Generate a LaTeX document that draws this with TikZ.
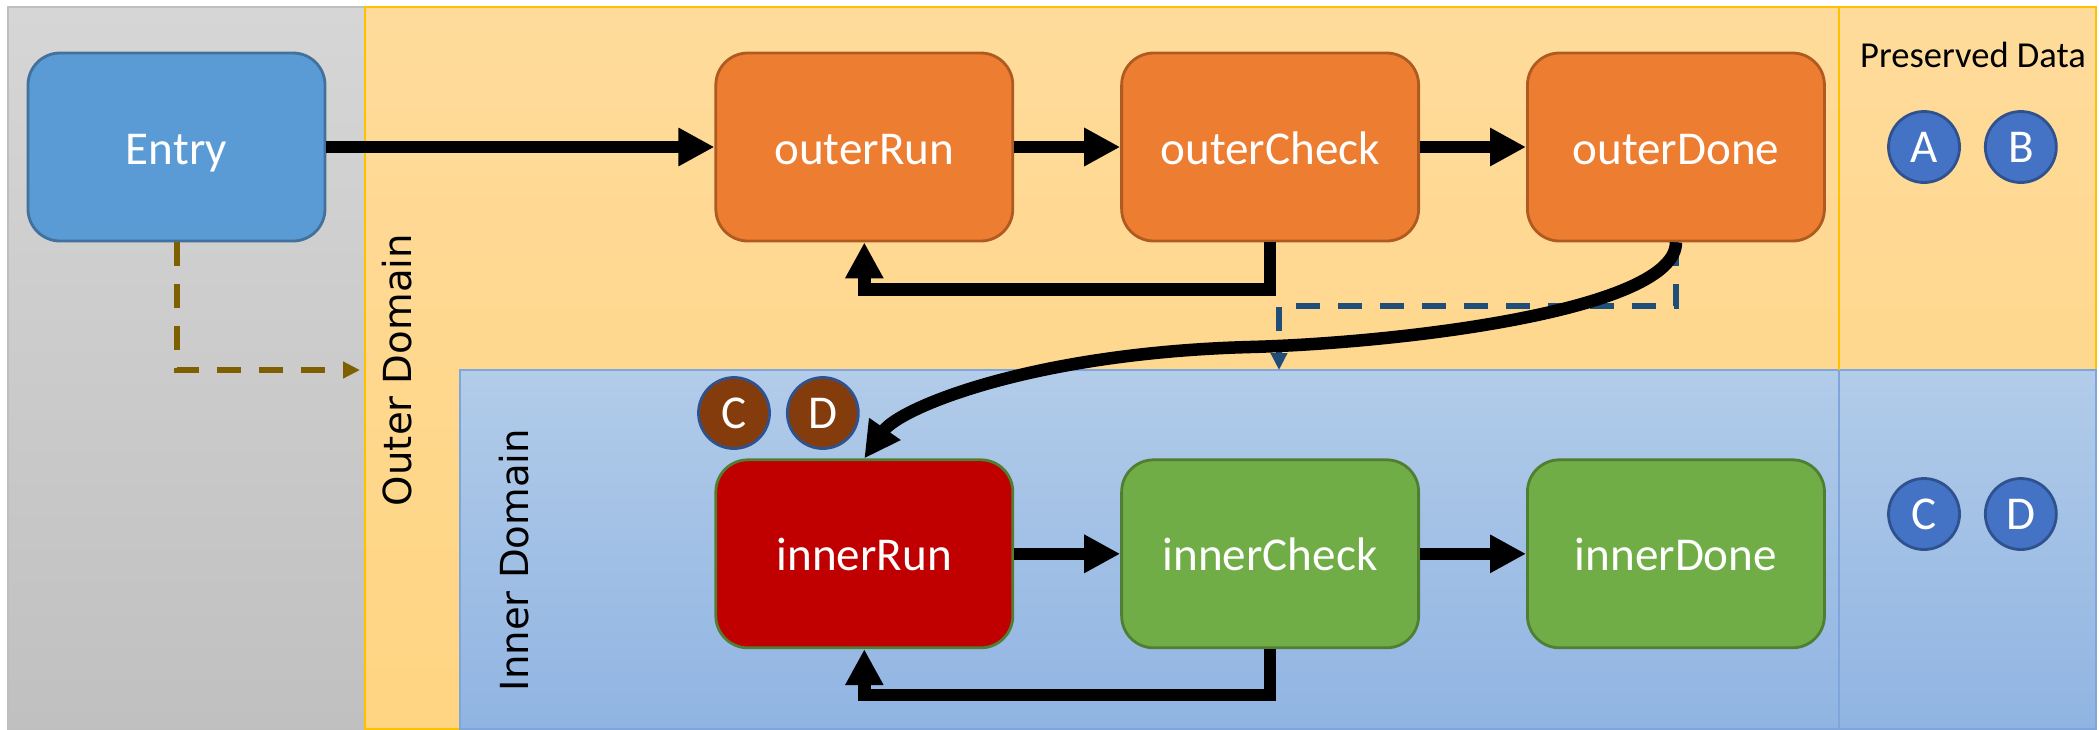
\documentclass[tikz,border=0pt]{standalone}
\usepackage{fontspec}
\setmainfont{Carlito}
\newfontfamily\domainfont{DejaVu Sans}
\usetikzlibrary{positioning,arrows.meta}

\definecolor{entryBlue}{HTML}{5B9BD5}
\definecolor{entryEdge}{HTML}{41719C}
\definecolor{outerOrange}{HTML}{ED7D31}
\definecolor{outerEdge}{HTML}{AE5A21}
\definecolor{innerGreen}{HTML}{70AD47}
\definecolor{innerEdge}{HTML}{507E32}
\definecolor{runRed}{HTML}{C00000}
\definecolor{tokenBlue}{HTML}{4472C4}
\definecolor{tokenBrown}{HTML}{843C0C}
\definecolor{tokenEdge}{HTML}{2F528F}
\definecolor{hintBrown}{HTML}{7F6000}
\definecolor{hintBlue}{HTML}{1F4E79}
\definecolor{grayTop}{HTML}{D6D6D6}
\definecolor{grayBottom}{HTML}{C0C0C0}
\definecolor{grayEdge}{HTML}{BFBFBF}
\definecolor{outerTop}{HTML}{FFDB9B}
\definecolor{outerBottom}{HTML}{FFD582}
\definecolor{outerLine}{HTML}{FFC000}
\definecolor{innerTop}{HTML}{B2CCE9}
\definecolor{innerBottom}{HTML}{90B4E2}
\definecolor{innerLine}{HTML}{7EA6DC}

\begin{document}
\begin{tikzpicture}[
    node distance=1.06cm,
    box/.style={rectangle, rounded corners=0.32cm, minimum width=2.97cm, minimum height=1.88cm,
        text height=0.42cm, text depth=0.08cm,
        line width=0.8pt, text=white, font=\fontsize{13.4}{16}\selectfont},
    entrybox/.style={box, fill=entryBlue, draw=entryEdge},
    outerbox/.style={box, fill=outerOrange, draw=outerEdge},
    innerbox/.style={box, fill=innerGreen, draw=innerEdge},
    token/.style={circle, minimum size=0.71cm, inner sep=0pt, line width=0.8pt, draw=tokenEdge,
        text=white, font=\fontsize{13.4}{16}\selectfont},
    domaintag/.style={rotate=90, font=\domainfont\fontsize{11}{13}\selectfont},
    flow/.style={line width=0.125cm, -{Triangle[length=0.36cm,width=0.36cm]}},
    hint/.style={line width=0.06cm, dash pattern=on 0.24cm off 0.18cm,
        -{Triangle[length=0.17cm,width=0.16cm]}}
]
\useasboundingbox (0,0) rectangle (20.99,7.29);

\shadedraw[top color=grayTop, bottom color=grayBottom, draw=grayEdge, line width=0.4pt] (0.08,0) rectangle (3.65,7.22);
\shadedraw[top color=outerTop, bottom color=outerBottom, draw=outerLine, line width=0.5pt] (3.65,0) rectangle (20.96,7.22);
\shadedraw[top color=innerTop, bottom color=innerBottom, draw=innerLine, line width=0.5pt] (4.60,0) rectangle (20.96,3.59);
\draw[outerLine, line width=0.5pt] (18.39,3.59) -- (18.39,7.22);
\draw[innerLine, line width=0.5pt] (18.39,0) -- (18.39,3.59);

\node[domaintag] (outerLabel) at (3.97,3.59) {Outer Domain};
\node[domaintag] (innerLabel) at (5.14,1.69) {Inner Domain};
\node[font=\fontsize{10.4}{12}\selectfont] (keepTitle) at (19.73,6.745) {Preserved Data};

\node[entrybox] (entry) at (1.765,5.82) {Entry};
\node[outerbox, right=3.88cm of entry] (outerRun) {outerRun};
\node[outerbox, right=of outerRun] (outerCheck) {outerCheck};
\node[outerbox, right=of outerCheck] (outerDone) {outerDone};
\node[innerbox, fill=runRed, below=2.16cm of outerRun] (innerRun) {innerRun};
\node[innerbox, right=of innerRun] (innerCheck) {innerCheck};
\node[innerbox, right=of innerCheck] (innerDone) {innerDone};

\node[token, fill=tokenBlue] (keepA) at (19.24,5.82) {A};
\node[token, fill=tokenBlue, right=0.23cm of keepA] (keepB) {B};
\node[token, fill=tokenBlue] (keepC) at (19.24,2.15) {C};
\node[token, fill=tokenBlue, right=0.23cm of keepC] (keepD) {D};
\node[token, fill=tokenBrown] (passC) at (7.34,3.16) {C};
\node[token, fill=tokenBrown, right=0.15cm of passC] (passD) {D};

\coordinate (outerGate) at (3.60,3.59);
\coordinate (innerGate) at (12.79,3.59);
\coordinate (handoff) at (12.5,3.82);

\draw[hint, draw=hintBrown] (entry.south) |- (outerGate);
\draw[hint, draw=hintBlue] (outerDone.south) -- ++(0,-0.64) -| (innerGate);

\draw[flow] (entry) -- (outerRun);
\draw[flow] (outerRun) -- (outerCheck);
\draw[flow] (outerCheck) -- (outerDone);
\draw[flow] (outerCheck.south) -- ++(0,-0.47) -| (outerRun.south);
\draw[flow] (outerDone.south) .. controls +(0,-0.68) and +(1.5,0.04) .. (handoff)
    .. controls +(-2.2,-0.06) and +(0.35,0.5) .. (innerRun.north);
\draw[flow] (innerRun) -- (innerCheck);
\draw[flow] (innerCheck) -- (innerDone);
\draw[flow] (innerCheck.south) -- ++(0,-0.46) -| (innerRun.south);
\end{tikzpicture}
\end{document}
